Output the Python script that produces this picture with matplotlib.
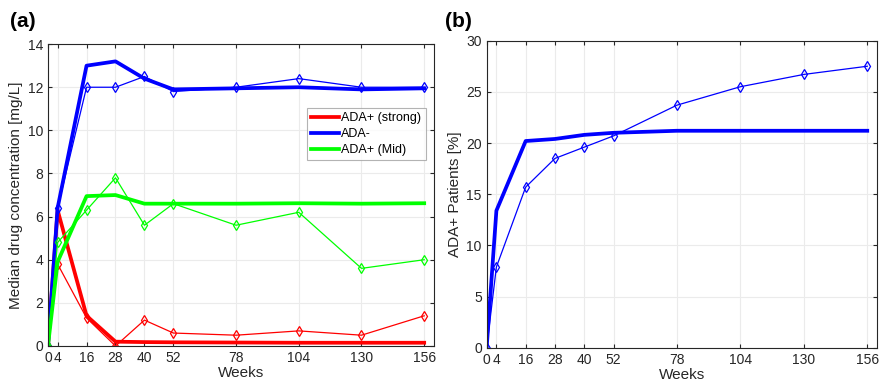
import matplotlib.pyplot as plt
import numpy as np

plt.rcParams['font.family'] = ['Liberation Sans', 'DejaVu Sans']

weeks = [0, 4, 16, 28, 40, 52, 78, 104, 130, 156]

# panel (a): median drug concentration, observed (thin) and model (thick)
obs_strong = [0, 3.8, 1.3, 0.0, 1.2, 0.6, 0.5, 0.7, 0.5, 1.4]
mod_strong = [0, 6.3, 1.4, 0.2, 0.18, 0.17, 0.16, 0.15, 0.15, 0.15]
obs_neg = [0, 6.4, 12.0, 12.0, 12.5, 11.8, 12.0, 12.4, 12.0, 12.0]
mod_neg = [0, 6.4, 13.0, 13.2, 12.4, 11.9, 11.95, 12.0, 11.9, 11.95]
obs_mid = [0, 4.8, 6.3, 7.8, 5.6, 6.6, 5.6, 6.2, 3.6, 4.0]
mod_mid = [0, 3.9, 6.95, 7.0, 6.6, 6.6, 6.6, 6.62, 6.6, 6.62]

# panel (b): ADA+ patients
obs_pct = [0, 7.9, 15.7, 18.5, 19.6, 20.7, 23.7, 25.5, 26.7, 27.5]
mod_pct = [0, 13.4, 20.2, 20.4, 20.8, 21.0, 21.2, 21.2, 21.2, 21.2]

red = '#ff0000'
blue = '#0000ff'
green = '#00ff00'
txt = '#262626'

fig = plt.figure(figsize=(8.8, 3.87), dpi=100)
ax1 = fig.add_axes([0.0545, 0.106, 0.4385, 0.780])
ax2 = fig.add_axes([0.553, 0.101, 0.4436, 0.794])


def style(ax, ylim, yticks):
    ax.set_xlim(0, 160)
    ax.set_ylim(*ylim)
    ax.set_xticks(weeks)
    ax.set_yticks(yticks)
    ax.grid(True, color='#ebebeb', linewidth=0.8)
    ax.set_axisbelow(True)
    ax.tick_params(direction='in', top=True, right=True, length=3,
                   labelsize=10, colors=txt, width=0.8)
    for s in ax.spines.values():
        s.set_color(txt)
        s.set_linewidth(0.8)
    ax.set_xlabel('Weeks', fontsize=11, color=txt, labelpad=1)


for obs, mod, c, lab in [(obs_strong, mod_strong, red, 'ADA+ (strong)'),
                         (obs_neg, mod_neg, blue, 'ADA-'),
                         (obs_mid, mod_mid, green, 'ADA+ (Mid)')]:
    ax1.plot(weeks, obs, color=c, lw=0.9, marker='d', ms=5.5, mfc='none',
             mew=0.9)
    ax1.plot(weeks, mod, color=c, lw=2.7, label=lab)

style(ax1, (0, 14), np.arange(0, 15, 2))
ax1.set_ylabel('Median drug concentration [mg/L]', fontsize=11, color=txt,
               labelpad=3)
leg = ax1.legend(loc='upper right', bbox_to_anchor=(0.979, 0.788),
                 fontsize=9, frameon=True, fancybox=False, handlelength=2.2,
                 handletextpad=0.2, borderpad=0.35, labelspacing=0.3,
                 borderaxespad=0)
leg.get_frame().set_edgecolor('#a0a0a0')
leg.get_frame().set_linewidth(0.8)

ax2.plot(weeks, obs_pct, color=blue, lw=0.9, marker='d', ms=5.5, mfc='none',
         mew=0.9)
ax2.plot(weeks, mod_pct, color=blue, lw=2.7)
style(ax2, (0, 30), np.arange(0, 31, 5))
ax2.set_ylabel('ADA+ Patients [%]', fontsize=11, color=txt, labelpad=3)

fig.text(0.011, 0.945, '(a)', fontsize=15, fontweight='bold', va='center')
fig.text(0.506, 0.945, '(b)', fontsize=15, fontweight='bold', va='center')

fig.savefig('out.png', dpi=100)
